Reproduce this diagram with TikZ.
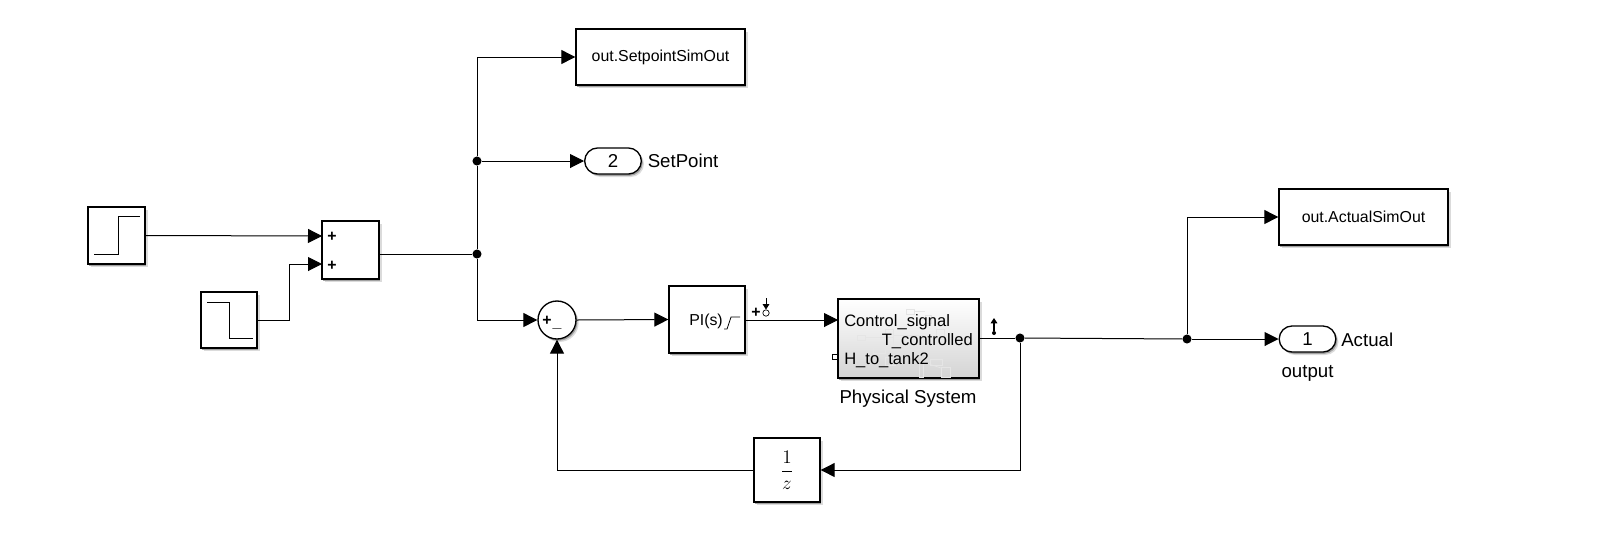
\documentclass[tikz,border=0pt]{standalone}
\usepackage{fontspec}
\setmainfont{Liberation Sans}
\usetikzlibrary{arrows.meta, shadows, shapes.misc}
\tikzset{
    dot/.style={fill=black, circle, inner sep=0pt, minimum size=6.8pt},
    signal/.style={line width=0.75pt, -{Triangle[length=10.5pt, width=10.5pt]}},
    wire/.style={line width=0.75pt},
    softshadow/.style={drop shadow={shadow xshift=1.1pt, shadow yshift=-1.3pt, fill=black!70, opacity=0.5},
      drop shadow={shadow xshift=2pt, shadow yshift=-2.2pt, fill=black!40, opacity=0.35}},
    block/.style 2 args={draw, line width=1pt, fill=white, inner sep=0pt, softshadow,
      minimum width=#1*0.75pt, minimum height=#2*0.75pt},
    gotoblock/.style={rounded rectangle, draw, line width=1pt, fill=white, inner sep=0pt, softshadow,
      minimum width=42.5pt, minimum height=19.6pt},
    bigtext/.style={font=\fontsize{14}{16}\selectfont, inner sep=0pt},
    smalltext/.style={font=\fontsize{11.9}{14}\selectfont, inner sep=0pt},
    porttext/.style={font=\fontsize{12.4}{14}\selectfont, inner sep=0pt},
    ghost/.style={draw=black!10, line width=0.5pt}
}

\begin{document}
\begin{tikzpicture}[x=0.75pt, y=-0.75pt]
          \useasboundingbox (0,0) rectangle (1600,544);
          % sources and adder
          \node [block={57}{57}] (stepup) at (116.5,235.5) {};
          \draw [wire] (94,254) -- (118,254) -- (118,216) -- (140,216);
          \node [block={56}{56}] (stepdown) at (229,320) {};
          \draw [wire] (207,302) -- (229,302) -- (229,338) -- (253,338);
          \node [block={57}{58}] (adder) at (350.5,250) {};
          \node [smalltext] (plusa) at (332,236.5) {\textbf{+}};
          \node [smalltext] (plusb) at (332,265.5) {\textbf{+}};
          \coordinate (addera) at (322,236);
          \coordinate (adderb) at (322,264);
          \coordinate (adderout) at (379,254);
          \coordinate (bend) at (289,264);
          % logging of the set point
          \node [block={169}{56}] (setlog) at (660.5,57) {};
          \node [smalltext] (setlogtext) at (660.5,57) {out.SetpointSimOut};
          \node [gotoblock] (gototwo) at (613,161) {};
          \node [bigtext] (gototwotext) at (613,161) {2};
          \node [bigtext, anchor=west] (setname) at (647.5,161) {SetPoint};
          % loop
          \node [block={38}{38}, circle, minimum size=28.5pt] (error) at (557,320) {};
          \node [smalltext] (errplus) at (547,320.5) {\textbf{+}};
          \node [smalltext] (errminus) at (557,328) {\textbf{\_}};
          \node [block={76}{67}] (pid) at (707,319.5) {};
          \node [smalltext, anchor=west] (pidtext) at (689,321) {PI(s)};
          \draw [wire, line width=0.6pt] (724,329) -- (727,329) -- (731,317) -- (740,317);
          \node [smalltext] (pidplus) at (756,313) {\textbf{+}};
          \node [draw, circle, line width=0.5pt, inner sep=0pt, minimum size=4.8pt] (pidport) at (766,313) {};
          \coordinate (pidtop) at (766,298);
          \draw [-{Triangle[length=4pt, width=5pt]}, line width=0.6pt] (pidtop) -- (pidport.north);
          % physical system
          \node [block={141}{79}, top color=white, bottom color=black!17] (plant) at (908.5,338.5) {};
          \foreach \gx/\gy/\gw/\gh in {906/309/8/5, 857/335/8/5, 885/329/8/8, 893/335/30/14, 873/347/12/6,
              885/357/10/8, 930/359/12/6, 936/329/8/14, 925/315/6/8, 941/367/9/10, 919/363/4/14}
            \draw [ghost] (\gx,\gy) rectangle ++(\gw,\gh);
          \draw [ghost] (914,311) -- (925,311);
          \draw [ghost] (865,337) -- (885,337);
          \draw [ghost] (923,362) -- (941,368);
          \node [porttext, anchor=west] (ctrltext) at (844,322.5) {Control\_signal};
          \node [porttext, anchor=east] (temptext) at (973,341.5) {T\_controlled};
          \node [porttext, anchor=west] (heighttext) at (844,360.5) {H\_to\_tank2};
          \node [draw, line width=1pt, fill=white, inner sep=0pt, minimum size=4pt] (heightport) at (835,357) {};
          \node [bigtext] (plantname) at (908,398.5) {Physical System};
          \coordinate (plantin) at (838,320);
          \coordinate (plantout) at (979,338);
          \coordinate (planttop) at (994,318);
          \node [dot, minimum size=3pt] (plantport) at (994,333) {};
          \draw [{Triangle[length=4pt, width=5pt]}-, line width=0.8pt] (planttop) -- (plantport);
          % outputs
          \node [block={66}{64}] (delay) at (787,470) {};
          \node [font=\fontsize{13.5}{15}\selectfont, inner sep=0pt] (delaytext) at (787,470) {$\displaystyle\frac{1}{z}$};
          \node [block={169}{56}] (actlog) at (1363.5,217) {};
          \node [smalltext] (actlogtext) at (1363.5,216.5) {out.ActualSimOut};
          \node [gotoblock] (gotoone) at (1307.5,339) {};
          \node [bigtext] (gotoonetext) at (1307.5,339) {1};
          \node [bigtext, anchor=west] (actname) at (1341,340) {Actual};
          \node [bigtext] (outname) at (1307.5,373) {output};
          % junctions
          \node [dot] (joina) at (477,254) {};
          \node [dot] (joinb) at (477,161) {};
          \node [dot] (joinc) at (1020,338) {};
          \node [dot] (joind) at (1187,339) {};
          % signals
          \draw [signal] (stepup.east) -- (addera);
          \draw [wire] (stepdown.east) -- (bend |- stepdown.east) -- (bend);
          \draw [signal] (bend) -- (adderb);
          \draw [wire] (adderout) -- (joina);
          \draw [wire] (joina) -- (joinb);
          \draw [signal] (joinb) |- (setlog.west);
          \draw [signal] (joinb) -- (gototwo.west);
          \draw [signal] (joina) |- (error.west);
          \draw [signal] (error.east) -- (pid.west);
          \draw [signal] (pid.east |- plantin) -- (plantin);
          \draw [wire] (plantout) -- (joinc);
          \draw [wire] (joinc) -- (joind);
          \draw [signal] (joind) -- (gotoone.west);
          \draw [signal] (joind) |- (actlog.west);
          \draw [signal] (joinc) |- (delay.east);
          \draw [signal] (delay.west) -| (error.south);
        \end{tikzpicture}
\end{document}
